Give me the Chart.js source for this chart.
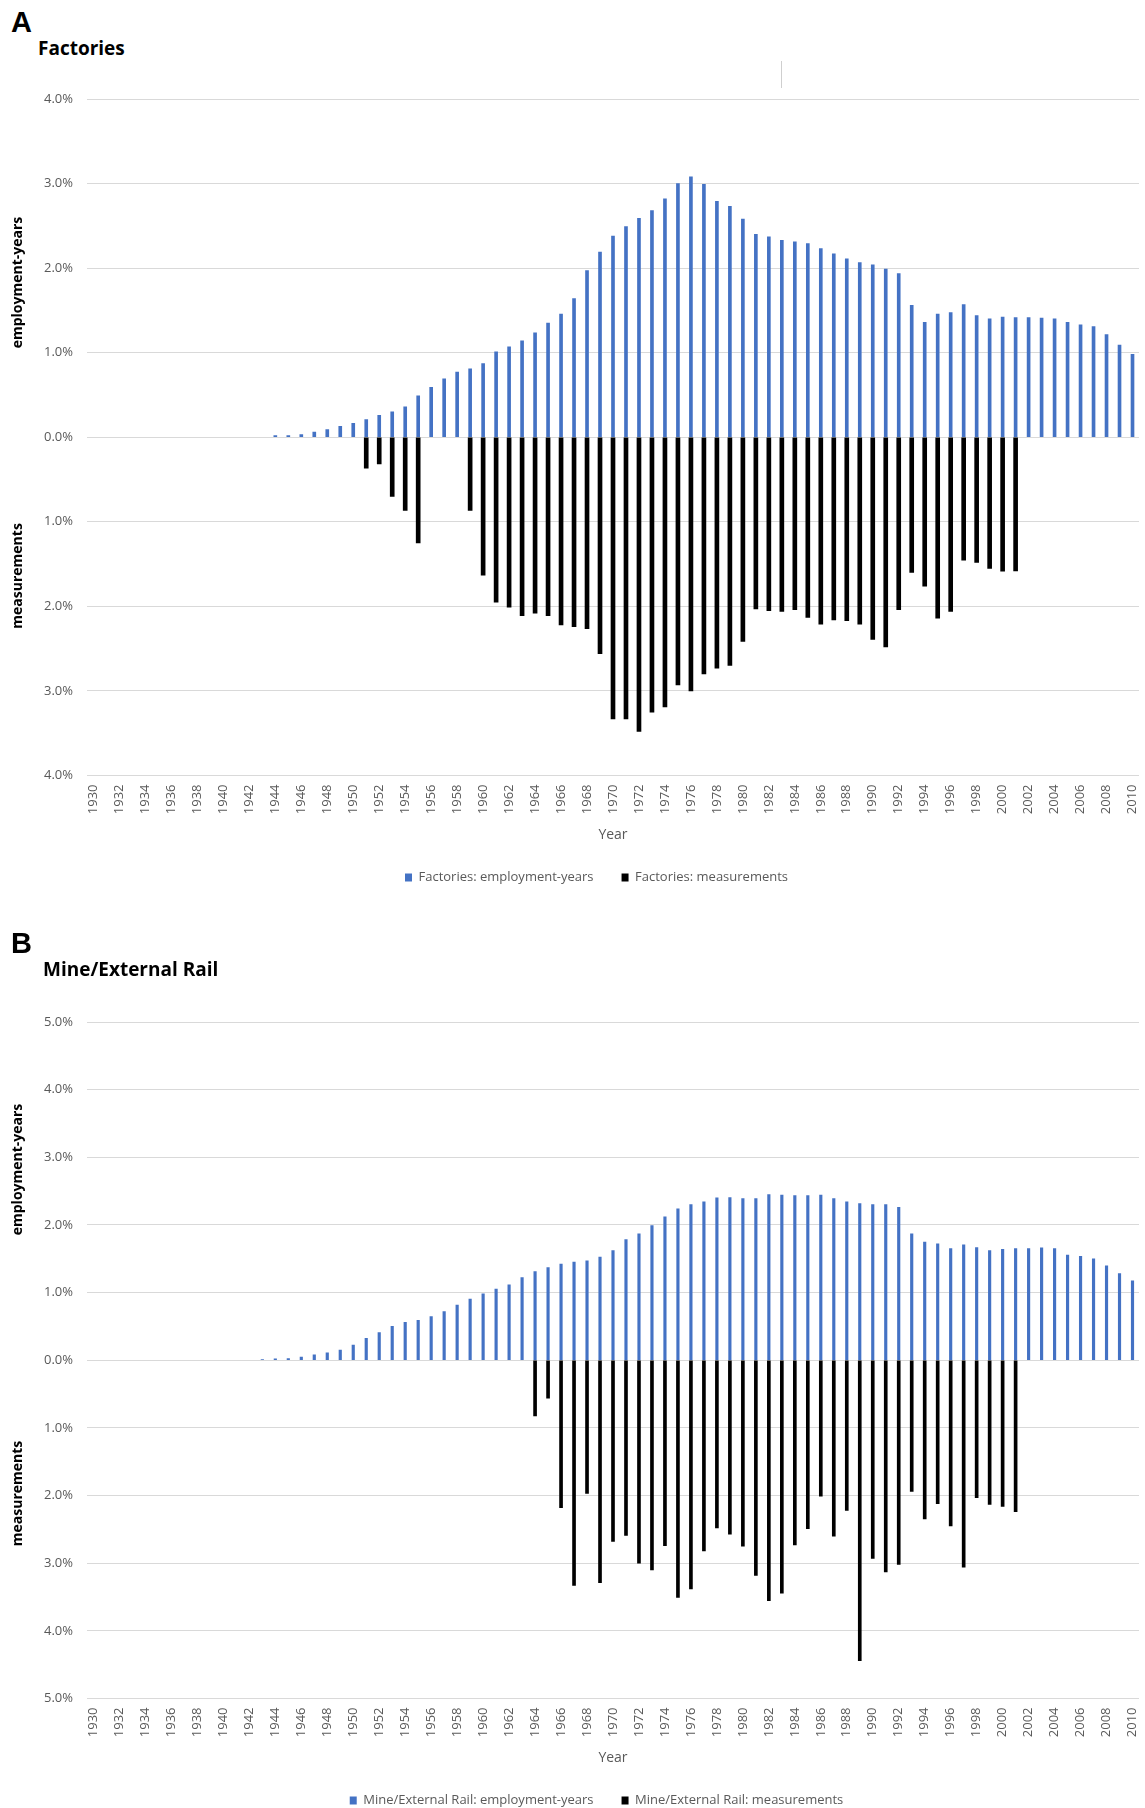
<!DOCTYPE html>
<html>
<head>
<meta charset="utf-8">
<script src="https://cdn.jsdelivr.net/npm/chart.js@4.4.1/dist/chart.umd.min.js"></script>
<style>
  body { margin: 0; background: #fff; width: 1145px; height: 1808px; overflow: hidden; position: relative; }
  .panel { position: absolute; left: 11px; font: bold 29px 'Liberation Sans', Arial, sans-serif; line-height: 1; color: #000; }
  .title { position: absolute; font: bold 19px 'Open Sans', sans-serif; line-height: 1; color: #000; }
  canvas { position: absolute; left: 0; }
</style>
</head>
<body>
<div class="panel" style="top:8px">A</div>
<div class="title" style="left:38px;top:39px">Factories</div>
<div style="position:absolute;left:781px;top:61px;width:1px;height:27px;background:#cfcfcf"></div>
<canvas id="chartA" width="1145" height="930" style="top:0"></canvas>

<div class="panel" style="top:929px">B</div>
<div class="title" style="left:43px;top:960px">Mine/External Rail</div>
<canvas id="chartB" width="1145" height="930" style="top:923px"></canvas>

<script>
// categories
var years = [];
for (var y = 1930; y <= 2010; y++) years.push(String(y));

// Factories: % of employment-years (from 1944) and % of measurements (from 1951)
var factoriesEmpStart = 1944;
var factoriesEmp = [
  0.02, 0.02, 0.03, 0.06, 0.09, 0.13, 0.165, 0.21, 0.26, 0.30,
  0.36, 0.49, 0.59, 0.69, 0.77, 0.81, 0.87, 1.01, 1.07, 1.14,
  1.235, 1.35, 1.455, 1.64, 1.97, 2.19,
  2.38, 2.49, 2.59, 2.68, 2.82, 3.00, 3.08, 2.99, 2.79, 2.73,
  2.58, 2.40, 2.37, 2.33, 2.31, 2.29, 2.23, 2.17, 2.11, 2.065,
  2.04, 1.99, 1.935, 1.56, 1.36, 1.455, 1.475, 1.57, 1.44, 1.40,
  1.42, 1.415, 1.415, 1.41, 1.40, 1.36, 1.33, 1.31, 1.215, 1.09,
  0.98
];
var factoriesMeasStart = 1951;
var factoriesMeas = [
  0.366, 0.315, 0.70, 0.865, 1.25, null, null, null, 0.865, 1.63,
  1.95, 2.01, 2.11, 2.08, 2.11, 2.22, 2.24, 2.265, 2.56, 3.33,
  3.33, 3.48, 3.25, 3.19, 2.93, 3.00, 2.80, 2.73, 2.70, 2.415,
  2.03, 2.05, 2.06, 2.04, 2.13, 2.21, 2.16, 2.17, 2.21, 2.39,
  2.48, 2.04, 1.60, 1.76, 2.14, 2.06, 1.455, 1.48, 1.55, 1.585, 1.58
];

// Mine/External Rail: % of employment-years (from 1943) and % of measurements (from 1964)
var mineEmpStart = 1943;
var mineEmp = [
  0.01, 0.02, 0.025, 0.045, 0.08, 0.11, 0.15,
  0.225, 0.325, 0.41, 0.50, 0.56, 0.59, 0.645, 0.72, 0.815, 0.905,
  0.98, 1.05, 1.115, 1.22, 1.31, 1.37, 1.42, 1.45, 1.47, 1.525,
  1.62, 1.785, 1.87, 1.99, 2.12, 2.24, 2.30, 2.34, 2.40, 2.405,
  2.39, 2.39, 2.45, 2.44, 2.435, 2.435, 2.44, 2.39, 2.34, 2.315,
  2.30, 2.30, 2.26, 1.87, 1.745, 1.72, 1.65, 1.705, 1.665, 1.62,
  1.64, 1.65, 1.65, 1.66, 1.65, 1.555, 1.535, 1.50, 1.395, 1.28, 1.175
];
var mineMeasStart = 1964;
var mineMeas = [
  0.825, 0.56, 2.18, 3.33, 1.97, 3.29,
  2.68, 2.59, 3.00, 3.10, 2.74, 3.505, 3.38, 2.82, 2.48, 2.57,
  2.75, 3.18, 3.555, 3.445, 2.73, 2.49, 2.01, 2.60, 2.22, 4.44,
  2.93, 3.13, 3.02, 1.94, 2.345, 2.12, 2.45, 3.06, 2.03, 2.13, 2.16, 2.24
];

Chart.defaults.font.family = "'Open Sans', sans-serif";

// line a series up with the year axis; measurements point downwards
function alignToYears(start, values, sign) {
  return years.map(function (label) {
    var v = values[Number(label) - start];
    return (v === undefined || v === null) ? null : sign * v;
  });
}

// rotated titles for the upper and lower halves of the y axis
var sideTitles = {
  id: 'sideTitles',
  afterDraw: function (chart, args, opts) {
    var ctx = chart.ctx;
    var yScale = chart.scales.y;
    ctx.save();
    ctx.font = "bold 14px 'Open Sans', sans-serif";
    ctx.fillStyle = '#000';
    ctx.textAlign = 'center';
    ctx.textBaseline = 'middle';
    opts.items.forEach(function (it) {
      ctx.save();
      ctx.translate(18, yScale.getPixelForValue(it.at));
      ctx.rotate(-Math.PI / 2);
      ctx.fillText(it.text, 0, 0);
      ctx.restore();
    });
    ctx.restore();
  }
};

// the legend sits a bit right of the canvas centre in the original
var legendShift = {
  id: 'legendShift',
  afterLayout: function (chart, args, opts) {
    chart.legend.left += opts.dx;
    chart.legend.right += opts.dx;
  }
};

function drawPanel(canvasId, names, emp, meas, yMax, sideAt, widths) {
  var ctx = document.getElementById(canvasId).getContext('2d');
  return new Chart(ctx, {
    type: 'bar',
    data: {
      labels: years,
      datasets: [
        { label: names[0], data: emp, backgroundColor: '#4472C4', barThickness: widths[0] },
        { label: names[1], data: meas, backgroundColor: '#000000', barThickness: widths[1] }
      ]
    },
    options: {
      responsive: false,
      animation: false,
      layout: { padding: { top: 99, left: 0, right: 6, bottom: 36 } },
      plugins: {
        legend: {
          position: 'bottom',
          labels: { boxWidth: 7, boxHeight: 8, padding: 28, color: '#595959', font: { size: 13 } }
        },
        legendShift: { dx: 27 },
        tooltip: { enabled: false },
        sideTitles: {
          items: [
            { text: 'employment-years', at: sideAt[0] },
            { text: 'measurements', at: sideAt[1] }
          ]
        }
      },
      scales: {
        x: {
          stacked: true,
          afterFit: function (s) { s.paddingLeft = 0; s.paddingRight = 0; },
          grid: { display: false, drawTicks: false },
          border: { display: false },
          ticks: {
            autoSkip: false, maxRotation: 90, minRotation: 90, padding: 9,
            color: '#595959', font: { size: 13 },
            callback: function (v, i) { return i % 2 === 0 ? this.getLabelForValue(v) : ''; }
          },
          title: { display: true, text: 'Year', color: '#595959', font: { size: 14 }, padding: { top: 3, bottom: 0 } }
        },
        y: {
          stacked: true,
          min: -yMax,
          max: yMax,
          afterFit: function (s) { s.width = 87; },
          grid: { color: '#d9d9d9', drawTicks: false },
          border: { display: false },
          ticks: {
            stepSize: 1, padding: 14, color: '#595959', font: { size: 13 },
            callback: function (v) { return Math.abs(v).toFixed(1) + '%'; }
          }
        }
      }
    },
    plugins: [sideTitles, legendShift]
  });
}

drawPanel('chartA',
  ['Factories: employment-years', 'Factories: measurements'],
  alignToYears(factoriesEmpStart, factoriesEmp, 1),
  alignToYears(factoriesMeasStart, factoriesMeas, -1),
  4, [1.83, -1.64], [3, 4]);

drawPanel('chartB',
  ['Mine/External Rail: employment-years', 'Mine/External Rail: measurements'],
  alignToYears(mineEmpStart, mineEmp, 1),
  alignToYears(mineMeasStart, mineMeas, -1),
  5, [2.82, -1.97], [2.5, 3]);
</script>
</body>
</html>
